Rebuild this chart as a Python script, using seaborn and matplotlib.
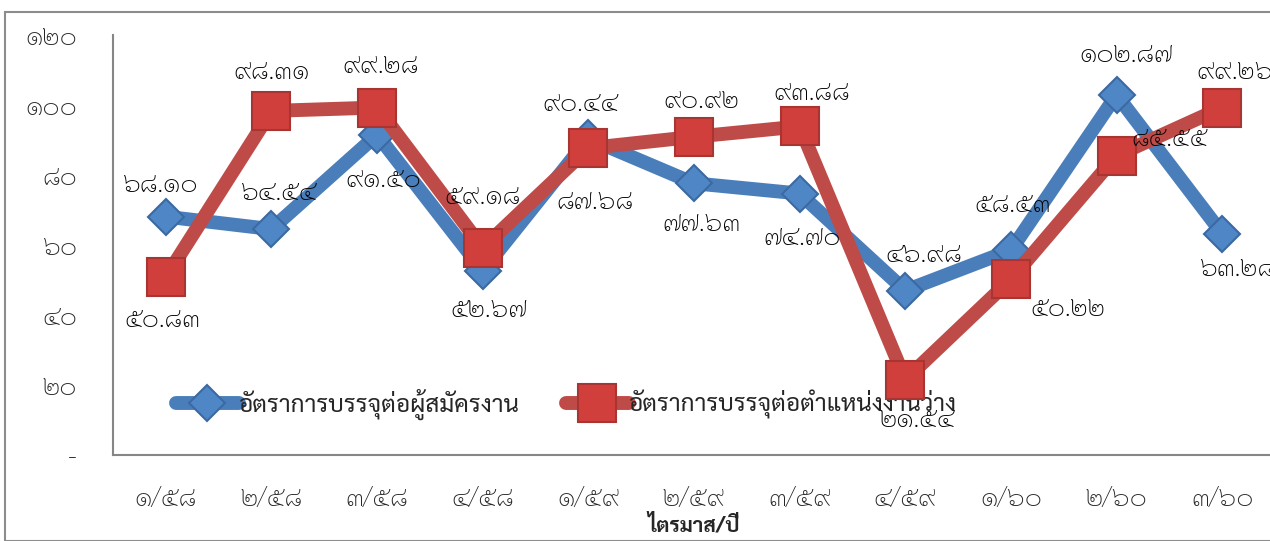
import pandas as pd
import matplotlib.pyplot as plt
import seaborn as sns
from matplotlib import font_manager
from matplotlib.patches import Rectangle

# ข้อมูล
quarters = ['๑/๕๘', '๒/๕๘', '๓/๕๘', '๔/๕๘', '๑/๕๙', '๒/๕๙', '๓/๕๙', '๔/๕๙', '๑/๖๐', '๒/๖๐', '๓/๖๐']
per_applicant = [68.10, 64.54, 91.50, 52.67, 90.44, 77.63, 74.70, 46.98, 58.53, 102.87, 63.28]
per_vacancy = [50.83, 98.31, 99.28, 59.18, 87.68, 90.92, 93.88, 21.54, 50.22, 85.55, 99.26]
series_names = ['อัตราการบรรจุต่อผู้สมัครงาน', 'อัตราการบรรจุต่อตำแหน่งงานว่าง']
y_ticks = [0, 20, 40, 60, 80, 100, 120]
y_ticklabels = ['-', '๒๐', '๔๐', '๖๐', '๘๐', '๑๐๐', '๑๒๐']
x_title = 'ไตรมาส/ปี'

# ตำแหน่งป้ายข้อมูล (พิกเซล, เทียบกับจุด)
off_app = [(-6, -32), (7, -36), (6, 45), (6, 39), (-8, -35), (7, 40), (2, 44), (18, -36), (2, -45), (10, -40), (15, 35)]
off_vac = [(-3, 43), (0, -39), (3, -42), (0, -51), (7, 54), (7, -36), (12, -34), (12, 40), (57, 29), (53, -17), (13, -36)]

THAI_DIGITS = '๐๑๒๓๔๕๖๗๘๙'


def to_thai(v):
    s = f'{v:.2f}'
    return ''.join(THAI_DIGITS[int(c)] if c.isdigit() else c for c in s)


# ฟอนต์ไทย
available = {f.name for f in font_manager.fontManager.ttflist}
thai_font = next((n for n in ['Sarabun', 'Niramit', 'Athiti', 'Anuphan', 'Loma'] if n in available), 'DejaVu Sans')

sns.set_style('white')
plt.rcParams['font.family'] = [thai_font, 'DejaVu Sans']

df = pd.DataFrame({
    'quarter': quarters * 2,
    'value': per_applicant + per_vacancy,
    'series': [series_names[0]] * len(quarters) + [series_names[1]] * len(quarters),
})

fig = plt.figure(figsize=(12.7, 5.41), dpi=100)
ax = fig.add_axes([113 / 1270, (541 - 455) / 541, 1162 / 1270, 420 / 541])

blue = '#4a7ebb'
red = '#be4b48'

sns.lineplot(data=df[df['series'] == series_names[0]], x='quarter', y='value',
             color=blue, linewidth=10, marker='D', markersize=18,
             markerfacecolor='#4f86c6', markeredgecolor='#3b6aa3', markeredgewidth=1.5,
             sort=False, ax=ax, label=series_names[0], zorder=3)
sns.lineplot(data=df[df['series'] == series_names[1]], x='quarter', y='value',
             color=red, linewidth=10, marker='s', markersize=28,
             markerfacecolor='#d03f3c', markeredgecolor='#a93532', markeredgewidth=1.5,
             sort=False, ax=ax, label=series_names[1], zorder=4)

for vals, offs in [(per_applicant, off_app), (per_vacancy, off_vac)]:
    for i, v in enumerate(vals):
        dx, dy = offs[i]
        ax.annotate(to_thai(v), (i, v), xytext=(dx * 0.72, -dy * 0.72),
                    textcoords='offset points', ha='center', va='center',
                    fontsize=19, fontweight='light', color='black', zorder=6)

ax.set_xlim(-0.5, len(quarters) - 0.5)
ax.set_ylim(0, 120)
ax.set_yticks(y_ticks)
ax.set_yticklabels(y_ticklabels, fontsize=19, fontweight='light')
ax.set_xticks(range(len(quarters)))
ax.set_xticklabels(quarters, fontsize=19, fontweight='light')
ax.set_xticks([i - 0.5 for i in range(len(quarters) + 1)], minor=True)
ax.tick_params(axis='x', which='major', length=0, pad=22)
ax.tick_params(axis='x', which='minor', length=10, color='#868686', width=1.2, direction='out')
ax.tick_params(axis='y', length=10, color='#868686', width=1.2, direction='out', pad=16)
ax.set_xlabel(x_title, fontsize=15, fontweight='bold', labelpad=2)
ax.set_ylabel('')
for side in ['top', 'right']:
    ax.spines[side].set_visible(False)
for side in ['left', 'bottom']:
    ax.spines[side].set_color('#868686')
    ax.spines[side].set_linewidth(1.5)

leg = ax.legend(loc='center left', bbox_to_anchor=(0.035, 0.12), ncol=2, frameon=False,
                prop={'size': 17.5, 'weight': 'normal'}, handlelength=2.6, handletextpad=0.0,
                columnspacing=1.9)
leg.set_zorder(1)

# กรอบแผนภูมิ
fig.patches.append(Rectangle((5 / 1270, 0), 1.1, (541 - 12) / 541, transform=fig.transFigure,
                             fill=False, edgecolor='#8c8c8c', linewidth=1.5))

fig.savefig('out.png', dpi=100)
